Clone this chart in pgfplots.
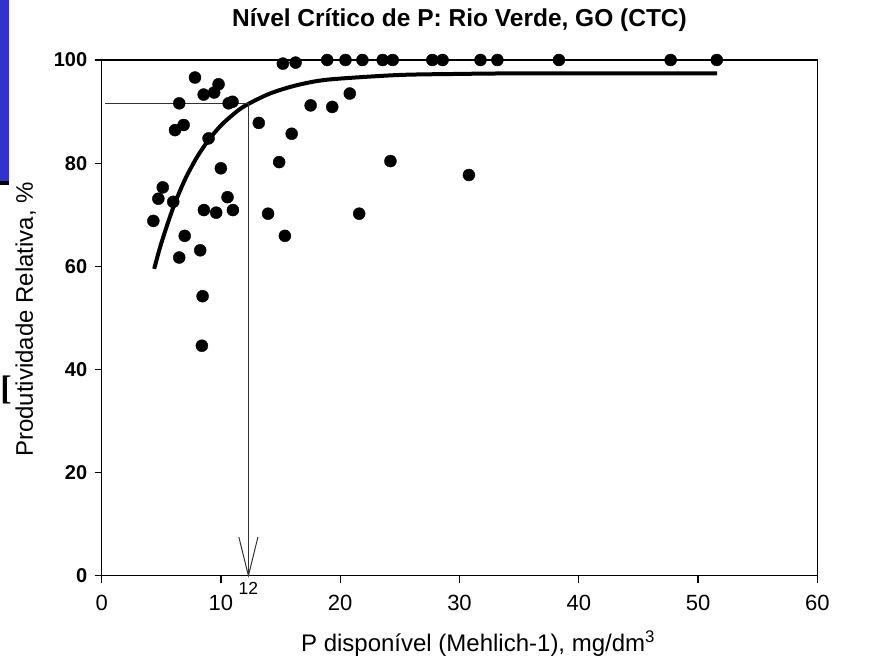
\documentclass[border=0pt]{standalone}
\usepackage{pgfplots}
\pgfplotsset{compat=1.18}
\usepackage{fontspec}
\setmainfont{Liberation Sans}
\newfontfamily\serifb{Liberation Serif}
\definecolor{slideblue}{RGB}{51,51,204}
\begin{document}
\begin{tikzpicture}
\begin{axis}[
  scale only axis, width=715.6pt, height=515.7pt,
  xmin=0, xmax=60, ymin=0, ymax=100,
  xtick={0,10,...,60}, ytick={0,20,...,100},
  tick align=outside, xtick pos=left, ytick pos=left,
  major tick length=7pt,
  axis line style={line width=1.2pt},
  every tick/.style={line width=1.2pt, black},
  clip=false,
  /pgf/number format/assume math mode=true,
  xticklabel style={font=\fontsize{22}{26}\selectfont, yshift=-9pt},
  yticklabel style={font=\bfseries\fontsize{20}{24}\selectfont, xshift=-4pt},
]
\coordinate (sw) at (rel axis cs:0,0);
\coordinate (ne) at (rel axis cs:1,1);
% fitted curve
\addplot[black, line width=4pt, smooth] coordinates {
(4.4,59.5) (5,64.5) (6,71.4) (7,76.9) (8,81.2) (9,84.6) (10,87.3) (11,89.4)
(12,91.1) (14,93.4) (16,94.9) (18,95.9) (20,96.4) (25,97.1) (30,97.3) (35,97.4) (51.6,97.4)};
% critical level lines
\addplot[black!80, line width=1pt] coordinates {(0.3,91.5) (12.3,91.5) (12.3,0)};
\addplot[black!80, line width=1pt] coordinates {(11.5,7.5) (12.3,0) (13.1,7.5)};
% data points
\addplot[only marks, mark=*, mark size=6pt, black] coordinates {
(7.82,96.6) (9.80,95.3) (8.55,93.3) (9.43,93.7) (6.50,91.6) (10.64,91.6) (10.97,91.9)
(6.87,87.4) (6.15,86.4) (8.96,84.8) (9.99,79.0) (5.12,75.3) (4.75,73.1) (6.00,72.5)
(10.55,73.4) (8.57,70.9) (9.60,70.4) (11.00,70.9) (4.33,68.8) (6.96,65.9) (8.26,63.1)
(6.50,61.7) (8.46,54.2) (8.40,44.6) (13.17,87.8) (15.93,85.7) (14.88,80.2) (13.95,70.2)
(15.36,65.9) (15.19,99.3) (16.26,99.5) (17.52,91.2) (19.33,90.9) (20.80,93.5)
(18.91,100) (20.44,100) (21.86,100) (23.56,100) (24.40,100) (27.72,100) (28.58,100)
(31.76,100) (33.18,100) (38.34,100) (47.70,100) (51.57,100)
(24.21,80.4) (21.59,70.2) (30.79,77.7)};
\node[font=\fontsize{17.5}{20}\selectfont] at (axis cs:12.3,0) [yshift=-12.5pt] {12};
\node[font=\bfseries\fontsize{24.5}{28}\selectfont, anchor=base] at ([yshift=33pt]rel axis cs:0.5,1) {Nível Crítico de P: Rio Verde, GO (CTC)};
\node[font=\fontsize{24}{28}\selectfont, anchor=base] at ([yshift=-76pt]rel axis cs:0.526,0) {P disponível (Mehlich-1), mg/dm\textsuperscript{3}};
\node[font=\fontsize{24}{28}\selectfont, rotate=90] at ([xshift=-76pt]rel axis cs:0,0.497) {Produtividade Relativa, \%};
\end{axis}
% slide artefacts at the left edge
\fill[slideblue] ([xshift=-101.7pt,yshift=60pt]ne -| sw) rectangle ([xshift=-92.7pt,yshift=-121pt]ne -| sw);
\fill[black] ([xshift=-101.7pt,yshift=-121pt]ne -| sw) rectangle ([xshift=-92.7pt,yshift=-125pt]ne -| sw);
\node[text=black, inner sep=0pt, anchor=west] at ([xshift=-101.5pt,yshift=-330pt]ne -| sw) {\serifb\bfseries\fontsize{34}{36}\selectfont{[}};
\pgfresetboundingbox
\path ([xshift=-101.7pt,yshift=-81.3pt]sw) rectangle ([xshift=65.7pt,yshift=60pt]ne);
\end{tikzpicture}
\end{document}
